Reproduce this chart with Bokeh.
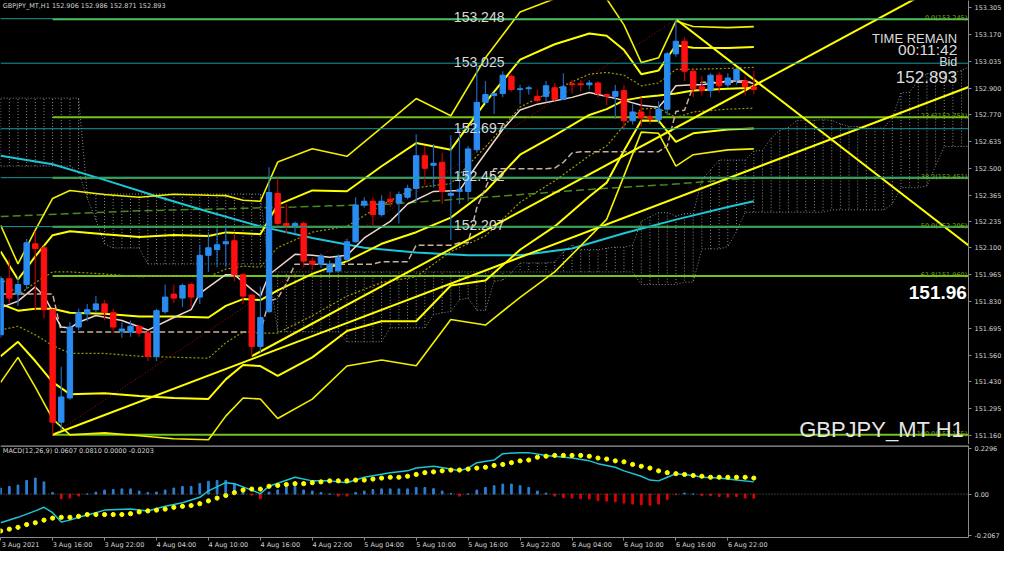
import re
from bokeh.plotting import figure
from bokeh.layouts import column
from bokeh.models import (FixedTicker, CustomJSTickFormatter, Label, Span, Range1d,
                          ColumnDataSource, LinearAxis)
from bokeh.core.properties import value
from bokeh.embed import file_html
from bokeh.resources import INLINE

# ---------------- data ----------------
opens = [151.665,151.946,151.869,151.917,152.121,152.101,151.791,151.228,151.349,151.704,
         151.771,151.791,151.820,151.776,151.684,151.679,151.708,151.674,151.558,151.781,
         151.869,151.849,151.917,151.854,152.063,152.092,152.121,152.136,151.966,151.864,
         151.607,151.781,152.373,152.223,152.208,152.223,152.034,152.019,151.980,151.985,
         152.043,152.131,152.315,152.334,152.267,152.344,152.325,152.354,152.398,152.562,
         152.514,152.529,152.364,152.383,152.383,152.592,152.829,152.863,152.873,152.960,
         152.893,152.897,152.859,152.859,152.902,152.844,152.922,152.922,152.917,152.926,
         152.868,152.859,152.888,152.737,152.781,152.757,152.742,152.795,153.072,153.135,
         152.985,152.907,152.888,152.965,152.917,152.941,152.936,152.906]
highs = [151.960,152.043,151.956,152.145,152.184,152.111,151.796,151.505,151.728,151.796,
         151.820,151.859,151.839,151.796,151.728,151.737,151.713,151.684,151.796,151.917,
         151.917,151.922,151.927,152.116,152.179,152.199,152.213,152.174,151.975,151.869,
         151.907,152.504,152.451,152.320,152.233,152.233,152.053,152.072,152.038,152.068,
         152.145,152.354,152.354,152.354,152.364,152.383,152.383,152.417,152.669,152.611,
         152.621,152.577,152.664,152.693,152.611,153.024,152.936,152.878,152.985,152.970,
         152.917,152.912,152.893,152.936,152.926,152.975,152.941,152.941,152.941,152.936,
         152.873,152.917,152.917,152.820,152.854,152.791,152.834,153.082,153.245,153.155,
         152.990,152.960,152.975,152.980,152.975,153.000,152.960,152.986]
lows = [151.650,151.820,151.810,151.893,151.786,151.747,151.165,151.189,151.340,151.689,
        151.733,151.776,151.738,151.674,151.650,151.655,151.655,151.534,151.534,151.771,
        151.825,151.805,151.800,151.820,151.980,152.004,152.004,151.932,151.820,151.558,
        151.577,151.776,152.213,152.174,152.174,152.004,151.990,152.000,151.970,151.975,
        152.034,152.126,152.301,152.208,152.257,152.305,152.223,152.344,152.334,152.417,
        152.402,152.320,152.140,152.320,152.334,152.577,152.820,152.771,152.854,152.883,
        152.820,152.868,152.829,152.829,152.834,152.839,152.873,152.883,152.893,152.854,
        152.815,152.747,152.693,152.718,152.708,152.718,152.723,152.766,153.057,152.936,
        152.854,152.863,152.854,152.878,152.902,152.917,152.863,152.871]
closes = [151.946,151.849,151.917,152.126,152.097,151.791,151.228,151.354,151.704,151.776,
          151.791,151.820,151.776,151.704,151.694,151.708,151.674,151.558,151.786,151.854,
          151.849,151.912,151.854,152.063,152.101,152.116,152.131,151.966,151.859,151.607,
          151.752,152.378,152.223,152.208,152.223,152.034,152.019,152.058,152.019,152.053,
          152.131,152.315,152.334,152.267,152.334,152.330,152.368,152.398,152.562,152.499,
          152.524,152.383,152.373,152.393,152.596,152.829,152.868,152.873,152.965,152.893,
          152.897,152.902,152.839,152.912,152.844,152.907,152.917,152.917,152.926,152.873,
          152.859,152.883,152.737,152.781,152.752,152.747,152.795,153.072,153.135,152.985,
          152.897,152.888,152.965,152.912,152.951,152.994,152.907,152.893]

time_ticks = [0, 6, 12, 18, 24, 30, 36, 42, 48, 54, 60, 66, 72, 78, 84]
time_labels = ["3 Aug 2021", "3 Aug 16:00", "3 Aug 22:00", "4 Aug 04:00", "4 Aug 10:00",
               "4 Aug 16:00", "4 Aug 22:00", "5 Aug 04:00", "5 Aug 10:00", "5 Aug 16:00",
               "5 Aug 22:00", "6 Aug 04:00", "6 Aug 10:00", "6 Aug 16:00", "6 Aug 22:00"]
price_ticks = [153.305, 153.170, 153.035, 152.900, 152.770, 152.635, 152.500, 152.365, 152.235,
               152.100, 151.965, 151.830, 151.695, 151.560, 151.430, 151.295, 151.160]

hlines = [153.248, 153.025, 152.697, 152.452, 152.207]
bid_price = 152.893
fib_names = ["0.0", "23.6", "38.2", "50.0", "61.8", "100.0"]
fib_prices = [153.245, 152.754, 152.451, 152.206, 151.960, 151.165]
fib_start = 6
fib_diag_x = [6, 78]
fib_diag_y = [151.165, 153.245]

trend_x0 = [6, 29, 78]
trend_y0 = [151.165, 151.558, 153.245]
trend_x1 = [112, 112, 112]
trend_y1 = [152.909, 153.496, 152.106]

bb_x = [0, 2, 4, 6, 8, 12, 16, 20, 24, 26, 28, 30, 32, 36, 40, 44, 48, 52, 56, 60, 64, 68, 70, 72, 74, 76, 78, 80, 84, 87]
bb_mid = [151.820, 151.786, 151.796, 151.796, 151.776, 151.771, 151.757, 151.757, 151.752, 151.810,
          151.844, 151.839, 151.888, 151.970, 152.034, 152.121, 152.179, 152.252, 152.383, 152.567,
          152.664, 152.766, 152.795, 152.839, 152.854, 152.863, 152.873, 152.888, 152.897, 152.902]
bb_sd = [0.131, 0.078, 0.131, 0.184, 0.204, 0.199, 0.199, 0.204, 0.204, 0.184,
         0.165, 0.165, 0.214, 0.209, 0.175, 0.194, 0.223, 0.170, 0.223, 0.238,
         0.228, 0.204, 0.184, 0.126, 0.058, 0.063, 0.121, 0.107, 0.102, 0.102]

cyan_ma_x = [0, 6, 12, 18, 24, 30, 36, 42, 48, 54, 60, 66, 72, 78, 84, 87]
cyan_ma_y = [152.562, 152.519, 152.441, 152.359, 152.281, 152.208, 152.150, 152.101, 152.077,
             152.063, 152.063, 152.097, 152.174, 152.242, 152.305, 152.334]

green_ma_x = [0, 16, 34, 45, 56, 68, 77, 87]
green_ma_y = [152.257, 152.286, 152.305, 152.320, 152.354, 152.393, 152.417, 152.451]

pale_ma_x = [0, 2, 4, 5, 7, 8, 9, 11, 14, 17, 20, 22, 23, 26, 27, 29, 30, 31, 34, 36, 38, 40, 42,
             45, 47, 50, 53, 55, 58, 60, 62, 66, 68, 69, 72, 74, 76, 77, 78, 80, 81, 84, 86, 87]
pale_ma_y = [151.801, 151.834, 151.905, 151.860, 151.704, 151.699, 151.728, 151.762, 151.737,
             151.689, 151.752, 151.791, 151.873, 151.966, 151.966, 151.893, 151.859, 151.966,
             152.068, 152.063, 152.053, 152.063, 152.150, 152.233, 152.320, 152.383, 152.388,
             152.514, 152.693, 152.791, 152.820, 152.854, 152.878, 152.868, 152.839, 152.815,
             152.805, 152.854, 152.912, 152.917, 152.917, 152.936, 152.936, 152.922]

kijun_x = [0, 6, 7, 30, 31, 32, 33, 34, 43, 44, 47, 48, 52, 53, 54, 55, 56, 57, 63, 64, 65, 66,
           67, 76, 77, 78, 79, 80, 81, 87]
kijun_y = [151.870, 151.870, 151.679, 151.679, 151.835, 151.847, 151.922, 152.019, 152.019,
           152.031, 152.031, 152.114, 152.114, 152.126, 152.126, 152.301, 152.400, 152.497,
           152.497, 152.500, 152.529, 152.575, 152.582, 152.582, 152.611, 152.783, 152.790,
           152.911, 152.930, 152.930]

span_a = ([152.51] * 9 + [152.48, 152.35, 152.24, 152.12] + [152.10] * 4 + [152.02] * 14 +
          [151.99] + [151.68] * 8 + [151.63] * 5 + [151.70] * 5 +
          [151.766, 151.775, 151.782, 151.841, 151.848, 151.788, 151.788, 151.933, 151.939, 151.977,
           152.025, 152.025, 152.025, 152.025, 152.030, 152.080, 152.115, 152.091, 152.091, 152.091,
           152.099, 152.104, 152.104, 152.114, 152.233, 152.256, 152.277, 152.277, 152.260, 152.272,
           152.272, 152.442, 152.491, 152.540, 152.540, 152.540, 152.540, 152.585, 152.588, 152.649,
           152.689, 152.704, 152.739, 152.740, 152.740, 152.742, 152.739, 152.722, 152.708, 152.708,
           152.700, 152.700, 152.700, 152.750, 152.876, 152.880, 152.940, 152.973, 152.973, 152.976,
           152.977, 152.988, 153.010, 152.987])
span_b = ([152.85] * 10 + [152.37] * 21 + [151.98] * 43 + [151.917] * 5 + [151.929] * 2 +
          [152.095] * 3 + [152.107, 152.182] + [152.279] * 10 + [152.291] * 7 + [152.320] +
          [152.402] * 3 + [152.411, 152.511] + [152.608] * 5)

macd_x = [0, 2, 4, 5, 6, 7, 8, 9, 11, 12, 15, 17, 19, 21, 23, 24, 26, 27, 29, 30, 31, 34, 36, 38,
          40, 42, 45, 47, 48, 50, 52, 53, 54, 55, 57, 58, 60, 61, 63, 66, 68, 69, 71, 72, 74, 75,
          76, 77, 78, 80, 81, 83, 85, 87]
macd_y = [-0.143, -0.116, -0.084, -0.066, -0.093, -0.139, -0.130, -0.116, -0.093, -0.080, -0.075,
          -0.084, -0.061, -0.043, -0.016, 0.016, 0.057, 0.052, 0.020, 0.002, 0.039, 0.084, 0.066,
          0.066, 0.057, 0.084, 0.107, 0.116, 0.130, 0.139, 0.125, 0.116, 0.130, 0.157, 0.170,
          0.202, 0.207, 0.207, 0.193, 0.180, 0.166, 0.152, 0.134, 0.116, 0.089, 0.070, 0.066,
          0.084, 0.102, 0.093, 0.084, 0.080, 0.070, 0.061]
signal = [-0.184, -0.175, -0.166, -0.152, -0.143, -0.130, -0.120, -0.116, -0.116, -0.111,
          -0.102, -0.102, -0.102, -0.102, -0.102, -0.098, -0.089, -0.084, -0.080, -0.075,
          -0.066, -0.061, -0.057, -0.048, -0.034, -0.020, -0.007, 0.007, 0.020, 0.025,
          0.025, 0.039, 0.043, 0.048, 0.052, 0.052, 0.057, 0.061, 0.066, 0.066,
          0.066, 0.070, 0.070, 0.075, 0.080, 0.084, 0.084, 0.089, 0.098, 0.107,
          0.111, 0.116, 0.120, 0.120, 0.125, 0.130, 0.134, 0.143, 0.148, 0.157,
          0.166, 0.170, 0.184, 0.189, 0.193, 0.193, 0.193, 0.193, 0.189, 0.180,
          0.175, 0.166, 0.161, 0.148, 0.139, 0.130, 0.116, 0.107, 0.102, 0.098,
          0.093, 0.089, 0.084, 0.084, 0.084, 0.084, 0.084, 0.080]
hist = [0.030, 0.038, 0.045, 0.068, 0.080, 0.061, 0.008, -0.023, -0.020, -0.010,
        0.000, 0.010, 0.020, 0.023, 0.026, 0.026, 0.015, 0.008, 0.010, 0.020,
        0.030, 0.038, 0.038, 0.053, 0.064, 0.068, 0.068, 0.053, 0.030, -0.005,
        -0.023, 0.010, 0.020, 0.035, 0.038, 0.020, 0.015, 0.008, 0.000, -0.010,
        -0.010, 0.008, 0.015, 0.023, 0.026, 0.026, 0.026, 0.026, 0.033, 0.033,
        0.027, 0.015, 0.003, -0.010, 0.000, 0.020, 0.033, 0.042, 0.050, 0.050,
        0.042, 0.033, 0.015, 0.005, -0.010, -0.018, -0.020, -0.023, -0.025, -0.033,
        -0.035, -0.038, -0.045, -0.050, -0.053, -0.056, -0.050, -0.027, -0.003, 0.005,
        0.000, -0.008, -0.008, -0.012, -0.015, -0.012, -0.020, -0.0203]
macd_ticks = [0.2296, 0.0, -0.2067]

# ---------------- styling ----------------
BG = "#000000"
AX = "#8a8a8a"
TXT = "#d4d4d4"
FRAME_W = 968
X_START, X_END = -0.02, 111.8
Y_START, Y_END = 151.116, 153.339
M_START, M_END = -0.2167, 0.2426
AXFONT = "DejaVu Sans"
BIG = "Liberation Sans"
LABEL_SHIFT = 2.3   # MT4 time labels start at their tick; Bokeh centres them

p = figure(frame_width=FRAME_W, frame_height=444,
           x_range=Range1d(X_START, X_END), y_range=Range1d(Y_START, Y_END),
           output_backend="svg", toolbar_location=None,
           y_axis_location="right", x_axis_location=None,
           background_fill_color=BG, border_fill_color=BG, outline_line_color=None,
           min_border_left=0, min_border_top=0, min_border_bottom=0, min_border_right=0)
p.grid.visible = False

yax = p.yaxis[0]
yax.ticker = FixedTicker(ticks=price_ticks)
yax.formatter = CustomJSTickFormatter(code="return tick.toFixed(3);")
yax.axis_line_color = AX
yax.major_tick_line_color = AX
yax.major_tick_out = 3
yax.major_tick_in = 0
yax.minor_tick_line_color = None
yax.major_label_text_color = TXT
yax.major_label_text_font = AXFONT
yax.major_label_text_font_size = "6.5px"
yax.major_label_standoff = 3

# Ichimoku cloud
jx = list(range(len(span_a)))
p.segment(x0=jx, y0=span_a, x1=jx, y1=span_b, line_color="#8a8a8a", line_dash="1 2", line_width=1)
p.line(jx, span_a, line_color="#8a8a8a", line_dash="1 2", line_width=1)
p.line(jx, span_b, line_color="#8a8a8a", line_dash="1 2", line_width=1)

# horizontal lines and fibonacci levels
for hp in hlines:
    p.add_layout(Span(location=hp, dimension="width", line_color="#139a9e", line_width=1))
p.segment(x0=[fib_start] * len(fib_prices), y0=fib_prices, x1=[X_END + 1] * len(fib_prices),
          y1=fib_prices, line_color="#74c41a", line_width=2)
p.line(fib_diag_x, fib_diag_y, line_color="#a01010", line_dash="1 2", line_width=1)

# long moving averages
p.line(green_ma_x, green_ma_y, line_color="#4c8a1c", line_dash="8 4", line_width=1.5)
p.line(cyan_ma_x, cyan_ma_y, line_color="#1cc6d6", line_width=2)

# Bollinger bands
for k, col, w, dash in [(1, "#9a9a00", 1.2, "2 2"), (-1, "#9a9a00", 1.2, "2 2"),
                        (2, "#ffff00", 2, "solid"), (-2, "#ffff00", 2, "solid"),
                        (3, "#f0f000", 1.6, "solid"), (-3, "#f0f000", 1.6, "solid")]:
    band = [m + k * s for m, s in zip(bb_mid, bb_sd)]
    p.line(bb_x, band, line_color=col, line_width=w, line_dash=dash)
p.line(bb_x, bb_mid, line_color="#ffff00", line_width=2)

# kijun and fast MA
p.line(kijun_x, kijun_y, line_color="#c8b09c", line_dash="6 3", line_width=1.5)
p.line(pale_ma_x, pale_ma_y, line_color="#efd6cc", line_width=1.5)

# trend lines
p.segment(x0=trend_x0, y0=trend_y0, x1=trend_x1, y1=trend_y1, line_color="#ffff00", line_width=2)

# candles
n = len(closes)
idx = list(range(n))
bull = [c >= o for o, c in zip(opens, closes)]
src = ColumnDataSource(dict(
    x=idx, high=highs, low=lows,
    top=[max(o, c) for o, c in zip(opens, closes)],
    bottom=[min(o, c) for o, c in zip(opens, closes)],
    body=["#2a8cf0" if b else "#ff1010" for b in bull],
    wick=["#1f66b8" if b else "#b80000" for b in bull]))
p.segment(x0="x", y0="low", x1="x", y1="high", line_color="wick", line_width=1.2, source=src)
p.vbar(x="x", width=0.62, top="top", bottom="bottom", fill_color="body", line_color="body",
       line_width=1, source=src)

# texts
p.add_layout(Label(x=0.25, y=153.331, text="GBPJPY_MT,H1  152.906 152.986 152.871 152.893",
                   text_baseline="top", text_font=AXFONT, text_font_size="6.5px", text_color=TXT))
for hp in hlines:
    p.add_layout(Label(x=52.35, y=hp + 0.006, text=f"{hp:.3f}", text_baseline="alphabetic",
                       text_font=BIG, text_font_size="14px", text_color="#d8d8d8"))
for nm, fp in zip(fib_names, fib_prices):
    p.add_layout(Label(x=X_END - 0.15, y=fp + 0.006, text=f"{nm}({fp:.3f})", text_align="right",
                       text_baseline="alphabetic", text_font=AXFONT, text_font_size="6.5px",
                       text_color="#78b414"))
for txt, yy, fs in [("TIME REMAIN", 153.150, "13px"), ("00:11:42", 153.093, "15.5px"),
                    ("Bid", 153.032, "12.5px"), (f"{bid_price:.3f}", 152.954, "17px")]:
    p.add_layout(Label(x=110.5, y=yy, text=txt, text_align="right", text_baseline="alphabetic",
                       text_font=BIG, text_font_size=fs, text_color="#dcdcdc"))
p.add_layout(Label(x=111.3, y=151.19, text="GBPJPY_MT H1", text_align="right",
                   text_baseline="alphabetic", text_font=BIG, text_font_size="22px",
                   text_color="#e6e6e6"))
p.text(x=[104.9], y=[151.876], text=["151.961"], text_font=value(BIG), text_font_style="bold",
       text_font_size="19px", text_color="#ffffff", text_baseline="alphabetic")

# right-axis price boxes
for hp in hlines:
    p.add_layout(Label(x=X_END, x_offset=1, y=hp, text=f"{hp:.3f}", text_baseline="middle",
                       text_font=AXFONT, text_font_size="6.5px", text_color="#000000",
                       background_fill_color="#19e3ef", padding=1))
p.add_layout(Label(x=X_END, x_offset=1, y=bid_price, text=f"{bid_price:.3f}", text_baseline="middle",
                   text_font=AXFONT, text_font_size="6.5px", text_color="#000000",
                   background_fill_color="#ffffff", padding=1))

# ---------------- MACD pane ----------------
q = figure(frame_width=FRAME_W, frame_height=92,
           x_range=p.x_range, y_range=Range1d(M_START, M_END),
           output_backend="svg", toolbar_location=None, y_axis_location="right",
           background_fill_color=BG, border_fill_color=BG, outline_line_color=None,
           min_border_left=0, min_border_top=1, min_border_bottom=0, min_border_right=0)
q.grid.visible = False
q.add_layout(Span(location=0.2410, dimension="width", line_color="#9a9a9a", line_width=2))
q.add_layout(Span(location=0.0, dimension="width", line_color="#6a6a6a", line_dash="1 2", line_width=1))

hsrc = ColumnDataSource(dict(x=idx, top=hist, color=["#2a7fd8" if h >= 0 else "#e00000" for h in hist]))
q.vbar(x="x", width=0.2, top="top", bottom=0, fill_color="color", line_color="color", source=hsrc)
q.line(macd_x, macd_y, line_color="#1cc6d6", line_width=1.5)
q.scatter(idx, signal, size=4.2, fill_color="#ffff00", line_color="#ffff00")
q.add_layout(Label(x=0.25, y=0.236, text="MACD(12,26,9) 0.0607 0.0810 0.0000 -0.0203",
                   text_baseline="top", text_font=AXFONT, text_font_size="6.5px", text_color=TXT))

qy = q.yaxis[0]
qy.ticker = FixedTicker(ticks=macd_ticks)
qy.formatter = CustomJSTickFormatter(code="return tick == 0 ? '0.00' : tick.toFixed(4);")
qy.major_label_standoff = 3

# bottom time axis: tick marks on the real axis, labels on a second axis shifted so
# that each label starts at its tick
qx = q.xaxis[0]
qx.ticker = FixedTicker(ticks=time_ticks)
qx.major_label_overrides = {t: "" for t in time_ticks}
label_pos = [t + LABEL_SHIFT for t in time_ticks]
lab_ax = LinearAxis(ticker=FixedTicker(ticks=label_pos),
                    major_label_overrides={lp: s for lp, s in zip(label_pos, time_labels)})
q.add_layout(lab_ax, "below")

for ax in (qy, qx, lab_ax):
    ax.axis_line_color = AX
    ax.major_tick_line_color = AX
    ax.major_tick_out = 3
    ax.major_tick_in = 0
    ax.minor_tick_line_color = None
    ax.major_label_text_color = TXT
    ax.major_label_text_font = AXFONT
    ax.major_label_text_font_size = "6.5px"
qx.major_label_text_font_size = "1px"
qx.major_label_standoff = 0
lab_ax.axis_line_color = None
lab_ax.major_tick_line_color = None
lab_ax.major_tick_out = 0
lab_ax.major_label_standoff = 0

layout = column(p, q, spacing=0, styles={"background-color": BG})
html = file_html(layout, INLINE, title="GBPJPY_MT H1")
html = re.sub(r"<body[^>]*>", '<body style="background-color:#000000;">', html, count=1)
open("out.html", "w").write(html)
